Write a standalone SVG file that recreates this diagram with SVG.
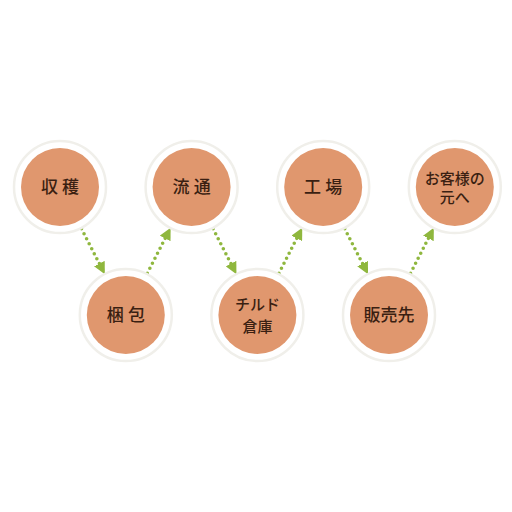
<svg xmlns="http://www.w3.org/2000/svg" width="512" height="512" viewBox="0 0 512 512">
<defs>
<style>
.ring{fill:#ffffff;stroke:#f0efea;stroke-width:2.5}
.disc{fill:#e0976e}
.lbl{font-family:"Liberation Serif","Noto Sans CJK JP",serif;font-size:17px;font-weight:500;fill:#3a1f12;text-anchor:middle}
.lbl2{font-family:"Liberation Serif","Noto Sans CJK JP",serif;font-size:15px;font-weight:500;fill:#3a1f12;text-anchor:middle}
.arr{stroke:#8fb73e;stroke-width:3.6;stroke-linecap:round;stroke-dasharray:0 5.6;fill:none;marker-end:url(#ah)}
</style>
<marker id="ah" markerUnits="userSpaceOnUse" markerWidth="12" markerHeight="12" viewBox="0 0 10 10" refX="9" refY="5" orient="auto">
<path d="M0,0 L10,5 L0,10 z" fill="#8fb73e"/>
</marker>
</defs>
<rect width="512" height="512" fill="#ffffff"/>
<g id="connectors">
<line class="arr" x1="81.5" y1="228.8" x2="104.3" y2="273.2"/>
<line class="arr" x1="147.3" y1="273.2" x2="170.1" y2="228.8"/>
<line class="arr" x1="213.1" y1="228.8" x2="235.9" y2="273.2"/>
<line class="arr" x1="278.9" y1="273.2" x2="301.7" y2="228.8"/>
<line class="arr" x1="344.7" y1="228.8" x2="367.5" y2="273.2"/>
<line class="arr" x1="410.5" y1="273.2" x2="433.3" y2="228.8"/>
</g>
<g id="n1"><circle class="ring" cx="60" cy="187" r="46"/><circle class="disc" cx="60" cy="187" r="39"/><text class="lbl" x="60" y="193">収 穫</text></g>
<g id="n2"><circle class="ring" cx="125.8" cy="315" r="46"/><circle class="disc" cx="125.8" cy="315" r="39"/><text class="lbl" x="125.8" y="321">梱 包</text></g>
<g id="n3"><circle class="ring" cx="191.6" cy="187" r="46"/><circle class="disc" cx="191.6" cy="187" r="39"/><text class="lbl" x="191.6" y="193">流 通</text></g>
<g id="n4"><circle class="ring" cx="257.4" cy="315" r="46"/><circle class="disc" cx="257.4" cy="315" r="39"/><text class="lbl2" x="257.4" y="310">チルド</text><text class="lbl2" x="257.4" y="332">倉庫</text></g>
<g id="n5"><circle class="ring" cx="323.2" cy="187" r="46"/><circle class="disc" cx="323.2" cy="187" r="39"/><text class="lbl" x="323.2" y="193">工 場</text></g>
<g id="n6"><circle class="ring" cx="389" cy="315" r="46"/><circle class="disc" cx="389" cy="315" r="39"/><text class="lbl" x="389" y="321">販売先</text></g>
<g id="n7"><circle class="ring" cx="454.8" cy="187" r="46"/><circle class="disc" cx="454.8" cy="187" r="39"/><text class="lbl2" x="454.8" y="184">お客様の</text><text class="lbl2" x="454.8" y="203">元へ</text></g>
</svg>
